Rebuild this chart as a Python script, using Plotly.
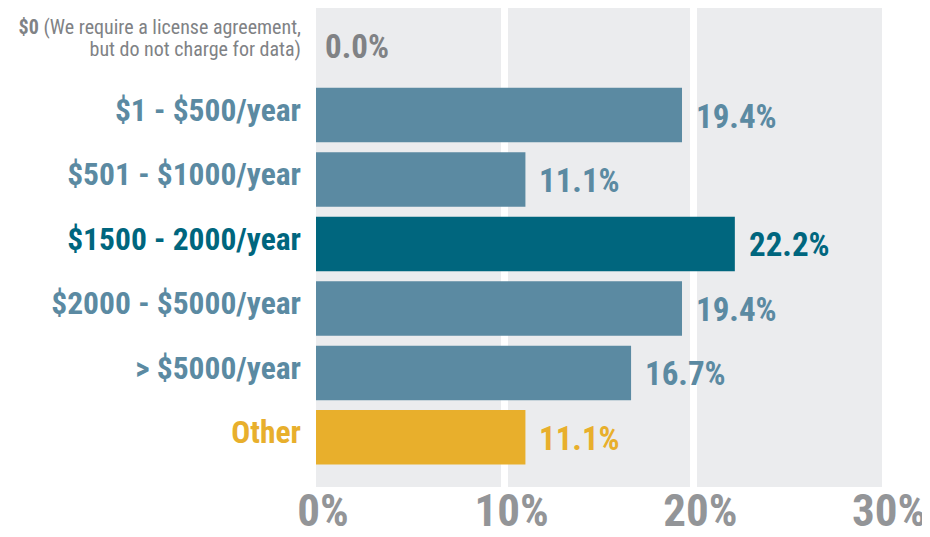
import plotly.graph_objects as go

categories = [
    "$0 (We require a license agreement, but do not charge for data)",
    "$1 - $500/year",
    "$501 - $1000/year",
    "$1500 - 2000/year",
    "$2000 - $5000/year",
    "> $5000/year",
    "Other",
]
tick_labels = [
    "<b>$0</b> (We require a license agreement,<br>but do not charge for data)<br>&nbsp;",
    "<b>$1 - $500/year</b>",
    "<b>$501 - $1000/year</b>",
    "<b>$1500 - 2000/year</b>",
    "<b>$2000 - $5000/year</b>",
    "<b>&gt; $5000/year</b>",
    "<b>Other</b>",
]
values = [0.0, 19.4, 11.1, 22.2, 19.4, 16.7, 11.1]
colors = ["#808285", "#5b8aa2", "#5b8aa2", "#00667e", "#5b8aa2", "#5b8aa2", "#e8af2c"]
x_ticks = [0, 10, 20, 30]
x_tick_labels = ["0%", "10%", "20%", "30%"]

FONT = "Roboto Condensed, Roboto, sans-serif"

fig = go.Figure()
fig.add_trace(go.Bar(
    y=categories, x=values, orientation="h",
    marker=dict(color=colors, line=dict(width=0)),
    hoverinfo="skip",
))

ticktext = []
for lab, c, i in zip(tick_labels, colors, range(len(colors))):
    size = 20 if i == 0 else 31.5
    ticktext.append(f"<span style='color:{c};font-size:{size}px'>{lab}</span>")

for cat, v, c in zip(categories, values, colors):
    fig.add_annotation(
        x=v, y=cat, text=f"<b>{v:.1f}%</b>", showarrow=False,
        xanchor="left", xshift=12 if v > 0 else 7, yshift=-1 if v > 0 else 4,
        font=dict(family=FONT, size=33, color=c),
    )

fig.update_layout(
    width=930, height=537,
    margin=dict(l=308, r=56, t=0, b=58),
    paper_bgcolor="white", plot_bgcolor="#ebecee",
    bargap=0.155, showlegend=False,
    font=dict(family=FONT),
)
fig.update_xaxes(
    range=[0, 30], tickvals=x_ticks, ticktext=x_tick_labels,
    showgrid=True, gridcolor="white", gridwidth=7, zeroline=False,
    showline=False, ticks="", ticklabelshift=7, ticklabelstandoff=-7,
    automargin=False,
    tickfont=dict(family=FONT, size=45, color="#939598", weight="bold"),
)
fig.update_yaxes(
    categoryorder="array", categoryarray=categories,
    range=[6.77, -0.66], tickvals=categories, ticktext=ticktext,
    showgrid=False, zeroline=False, showline=False, ticks="",
    ticklabelstandoff=14, automargin=False,
    tickfont=dict(family=FONT, size=17, color="#5b8aa2"),
)
fig.write_html("out.html")
